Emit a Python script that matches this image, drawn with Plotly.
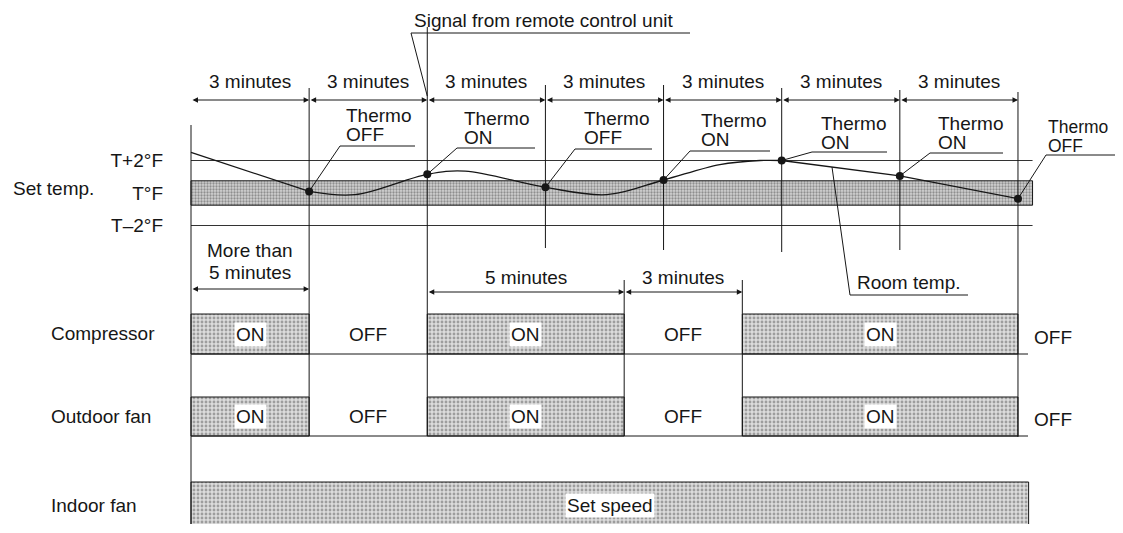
import numpy as np
import plotly.graph_objects as go

# ---------------- data (minutes / °F relative to set temp) ----------------
event_times = [3, 6, 9, 12, 15, 18, 21]
thermo_line1 = ["Thermo"] * 7
thermo_line2 = ["OFF", "ON", "OFF", "ON", "ON", "ON", "OFF"]
thermo_temps = [0.1, 1.15, 0.35, 0.8, 2.0, 1.05, -0.35]
interval_starts = [0, 3, 6, 9, 12, 15, 18]
interval_ends = [3, 6, 9, 12, 15, 18, 21]
interval_labels = ["3 minutes"] * 7

room_t_a = [0, 3]
room_temp_a = [2.5, 0.1]
room_t_b = [3, 4.16, 6, 6.96, 9, 10.56, 12, 13.43, 14.45, 15]
room_temp_b = [0.1, -0.1, 1.15, 1.35, 0.35, -0.1, 0.8, 1.75, 2.0, 2.0]
room_t_c = [15, 18, 21]
room_temp_c = [2.0, 1.05, -0.35]

band_half = 0.75
band_end = 21.37
temp_ticks = [2, 0, -2]
temp_tick_labels = ["T+2°F", "T°F", "T–2°F"]

comp_on_start = [0, 6, 14]
comp_on_end = [3, 11, 21]
comp_off_start = [3, 11]
comp_off_end = [6, 14]
fan_on_start = [0, 6, 14]
fan_on_end = [3, 11, 21]
fan_off_start = [3, 11]
fan_off_end = [6, 14]
indoor_start = [0]
indoor_end = [21.27]

row_labels = ["Compressor", "Outdoor fan", "Indoor fan"]

# ---------------- layout helpers ----------------
PAGE_W, PAGE_H = 1123, 533
OFF = 8                            # page body margin offset
W, H = PAGE_W - 2 * OFF, PAGE_H - 2 * OFF - 1
X0_PX, PXM = 191, 39.38           # page pixel of t=0, pixels per minute
T0_PX, PXF = 193, 16.25           # page pixel of set temp, pixels per °F


def X(px):
    return (px - X0_PX) / PXM


def ypx(temp):
    return T0_PX - temp * PXF


FONT = "Liberation Sans, Arial, sans-serif"
INK = "#161616"
FS = 19

fig = go.Figure()

stipple = dict(shape=".", fgcolor="#5e5e5e", bgcolor="#dcdcdc", size=4, solidity=0.4)

# temperature band (T°F)
fig.add_trace(go.Scatter(
    x=[0, band_end, band_end, 0, 0],
    y=[band_half, band_half, -band_half, -band_half, band_half],
    yaxis="y2", mode="lines", fill="toself",
    fillcolor="#bdbdbd", fillpattern=dict(shape=".", fgcolor="#4a4a4a", bgcolor="#d2d2d2", size=3, solidity=0.45),
    line=dict(color=INK, width=1), hoverinfo="skip", showlegend=False))

# T+2 / T-2 lines
for tv in [temp_ticks[0], temp_ticks[2]]:
    fig.add_trace(go.Scatter(x=[0, band_end], y=[tv, tv], yaxis="y2", mode="lines",
                             line=dict(color="#333", width=1), hoverinfo="skip", showlegend=False))

# room temperature curve
line_style = dict(color=INK, width=1.3)
fig.add_trace(go.Scatter(x=room_t_a, y=room_temp_a, yaxis="y2", mode="lines",
                         line=line_style, hoverinfo="skip", showlegend=False))
fig.add_trace(go.Scatter(x=room_t_b, y=room_temp_b, yaxis="y2", mode="lines",
                         line=dict(color=INK, width=1.3, shape="spline", smoothing=1.0),
                         hoverinfo="skip", showlegend=False))
fig.add_trace(go.Scatter(x=room_t_c, y=room_temp_c, yaxis="y2", mode="lines",
                         line=line_style, hoverinfo="skip", showlegend=False))
fig.add_trace(go.Scatter(x=event_times, y=thermo_temps, yaxis="y2", mode="markers",
                         marker=dict(color=INK, size=8), hoverinfo="skip", showlegend=False))

# state rows (bars)
rows = [
    (comp_on_start, comp_on_end, 334, 40),
    (fan_on_start, fan_on_end, 416.5, 39),
    (indoor_start, indoor_end, 504.5, 45),
]
for starts, ends, yc, hgt in rows:
    fig.add_trace(go.Bar(
        x=[e - s for s, e in zip(starts, ends)], base=starts, y=[yc] * len(starts),
        orientation="h", width=hgt,
        marker=dict(color="#dcdcdc", line=dict(color=INK, width=1), pattern=stipple),
        hoverinfo="skip", showlegend=False))

shapes = []


def seg(x0, y0, x1, y1, w=1):
    shapes.append(dict(type="line", xref="x", yref="y", x0=x0, y0=y0, x1=x1, y1=y1,
                       line=dict(color=INK, width=w)))


# vertical lines (time, top px, bottom px)
verticals = [(0, 125, 545), (3, 88, 436), (6, 27, 436), (9, 85, 248), (12, 85, 250),
             (15, 88, 252), (18, 90, 250), (21, 92, 437), (11, 280, 436), (14, 280, 436)]
for t, y0, y1 in verticals:
    seg(t, y0, t, y1)

# row bottom lines
seg(0, 354, X(1028), 354)
seg(0, 436, X(1028), 436)

annotations = []


def txt(x, y, text, xanchor="center", size=FS, bg=None, yanchor="middle"):
    a = dict(x=x, y=y, xref="x", yref="y", text=text, showarrow=False, xanchor=xanchor,
             yanchor=yanchor, font=dict(family=FONT, size=size, color=INK))
    if bg:
        a["bgcolor"] = bg
        a["borderpad"] = 1
    else:
        a["borderpad"] = 0
    annotations.append(a)


def darrow(x0, x1, y):
    annotations.append(dict(x=x1, y=y, ax=x0, ay=y, xref="x", yref="y", axref="x", ayref="y",
                            text="", showarrow=True, arrowhead=2, arrowside="end+start",
                            arrowsize=1.1, arrowwidth=1, arrowcolor=INK, standoff=0, startstandoff=0))


# top 3-minute intervals
for s, e, lab in zip(interval_starts, interval_ends, interval_labels):
    darrow(s, e, 100)
    txt((s + e) / 2, 81, lab)

# Thermo labels with leaders
label_left_px = [345, 463, 583, 700, 820, 937, 1047]
label_size = [FS] * 6 + [17.5]
label_cy = [124, 127, 127, 129, 132, 132, 136]
underline_px = [(340, 415, 146), (457, 535, 148), (575, 652, 149), (690, 770, 151),
                (812, 887, 152), (930, 1003, 153), (1046, 1123, 155)]
for t, tp, l1, l2, lx, sz, cy, (u0, u1, uy) in zip(event_times, thermo_temps, thermo_line1,
                                                   thermo_line2, label_left_px, label_size,
                                                   label_cy, underline_px):
    txt(X(lx), cy - 9, l1, xanchor="left", size=sz)
    txt(X(lx), cy + 10, l2, xanchor="left", size=sz)
    seg(X(u0), uy, X(u1), uy)
    seg(X(u0), uy, t, ypx(tp))

# signal from remote control unit
txt(X(413), OFF + 1, "Signal from remote control unit", xanchor="left", yanchor="top")
seg(X(411), 33, X(690), 33)
seg(X(411), 33, 6, 96)

# room temp leader
t_lead = X(832)
seg(t_lead, ypx(float(np.interp(t_lead, room_t_c, room_temp_c))), X(850), 295)
seg(X(850), 295, X(968), 295)
txt(X(856), 282, "Room temp.", xanchor="left")

# left labels
txt(X(12), 188, "Set temp.", xanchor="left")
txt(X(50), 333, row_labels[0], xanchor="left")
txt(X(50), 416, row_labels[1], xanchor="left")
txt(X(50), 505, row_labels[2], xanchor="left")

# lower time spans
darrow(comp_on_start[0], comp_on_end[0], 289)
txt((comp_on_start[0] + comp_on_end[0]) / 2, 250, "More than")
txt((comp_on_start[0] + comp_on_end[0]) / 2, 272, "5 minutes")
darrow(comp_on_start[1], comp_on_end[1], 292)
txt((comp_on_start[1] + comp_on_end[1]) / 2, 277, "5 minutes")
darrow(comp_off_start[1], comp_off_end[1], 292)
txt((comp_off_start[1] + comp_off_end[1]) / 2, 277, "3 minutes")

# ON / OFF labels
for starts, ends, offs, offe, yc in [(comp_on_start, comp_on_end, comp_off_start, comp_off_end, 334),
                                     (fan_on_start, fan_on_end, fan_off_start, fan_off_end, 416)]:
    for s, e in zip(starts, ends):
        txt((s + e) / 2, yc, "ON", bg="white")
    for s, e in zip(offs, offe):
        txt((s + e) / 2, yc, "OFF")
    txt(X(1033), yc + 3, "OFF", xanchor="left")
txt((indoor_start[0] + indoor_end[0]) / 2, 505, "Set speed", bg="white")

fig.update_layout(
    width=W, height=H, margin=dict(l=0, r=0, t=0, b=0),
    paper_bgcolor="white", plot_bgcolor="white",
    barmode="overlay", showlegend=False,
    xaxis=dict(range=[X(OFF), X(W + OFF)], visible=False, fixedrange=True),
    yaxis=dict(range=[H + OFF, OFF], visible=False, fixedrange=True),
    yaxis2=dict(range=[(T0_PX - H - OFF) / PXF, (T0_PX - OFF) / PXF], overlaying="y", anchor="free",
                position=(163 - OFF) / W, side="left", tickvals=temp_ticks, ticktext=temp_tick_labels,
                showgrid=False, zeroline=False, showline=False, ticks="",
                tickfont=dict(family=FONT, size=FS, color=INK), fixedrange=True),
    shapes=shapes, annotations=annotations,
)

fig.write_html("out.html")
